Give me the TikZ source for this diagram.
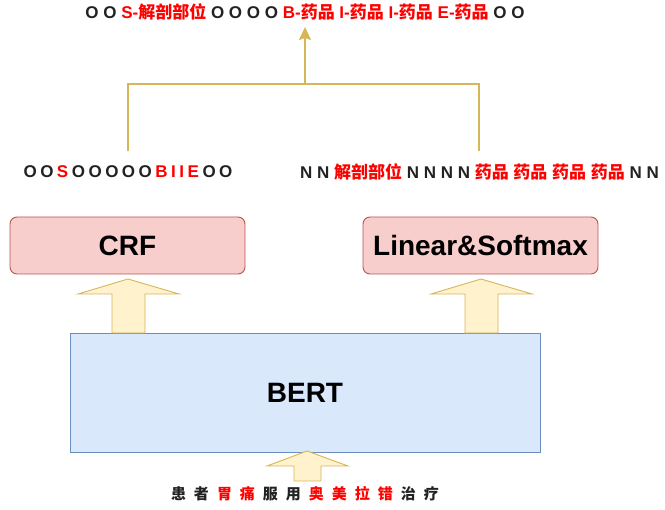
\documentclass[tikz,border=0pt]{standalone}
\usepackage{fontspec}
\usetikzlibrary{arrows.meta}
\setmainfont{Liberation Sans}
\newfontfamily\cjk{Noto Sans CJK SC}
\newcommand{\zh}[1]{{\cjk #1}}
\newcommand{\rd}[1]{{\color{tagred}#1}}
\newcommand{\gp}{\hspace{3.5pt}}
\newcommand{\cg}{\hspace{8pt}}
\definecolor{tagred}{HTML}{FF0000}
\definecolor{gold}{HTML}{D6B656}
\definecolor{goldfill}{HTML}{FFF2CC}
\definecolor{redfill}{HTML}{F8CECC}
\definecolor{redline}{HTML}{B85450}
\definecolor{bluefill}{HTML}{DAE8FC}
\definecolor{blueline}{HTML}{6C8EBF}
\definecolor{ink}{HTML}{222222}
\begin{document}
\begin{tikzpicture}[x=1pt,y=-1pt,
  layerbox/.style={draw=redline,fill=redfill,rounded corners=7pt,line width=0.9pt,
    minimum width=235pt,minimum height=57pt,inner sep=0pt,font=\bfseries\fontsize{28}{30}\selectfont},
  bertbox/.style={draw=blueline,fill=bluefill,line width=0.9pt,
    minimum width=470pt,minimum height=119pt,inner sep=0pt,font=\bfseries\fontsize{28}{30}\selectfont},
  seqtext/.style={inner sep=0pt,text=ink,font=\bfseries\fontsize{17}{19}\selectfont},
  blockarrow/.style={draw=gold,fill=goldfill,line width=0.9pt,line join=miter},
  merge/.style={draw=gold,line width=1.8pt}
]
\useasboundingbox (0,0) rectangle (665,510);

% encoder and output layers
\node[bertbox] (bert) at (305,392.5) {BERT};
\node[layerbox] (crf) at (127.5,245.5) {CRF};
\node[layerbox] (lin) at (480.5,245.5) {Linear\&Softmax};

% input sentence
\node[seqtext,font=\bfseries\fontsize{15}{17}\selectfont\cjk] (inp) at (305,494)
  {患\cg 者\cg \rd{胃\cg 痛}\cg 服\cg 用\cg \rd{奥\cg 美\cg 拉\cg 错}\cg 治\cg 疗};

% tag sequences produced by each head
\node[seqtext] (crfout) at (128,172)
  {O\gp O\gp \rd{S}\gp O\gp O\gp O\gp O\gp O\gp \rd{B\gp I\gp I\gp E}\gp O\gp O};
\node[seqtext] (linout) at (479.5,172)
  {N N \rd{\zh{解剖部位}} N N N N \rd{\zh{药品} \zh{药品} \zh{药品} \zh{药品}} N N};

% merged result
\node[seqtext] (final) at (305,12)
  {O O \rd{S-\zh{解剖部位}} O O O O \rd{B-\zh{药品} I-\zh{药品} I-\zh{药品} E-\zh{药品}} O O};

% block arrows: input -> BERT, BERT -> heads
\draw[blockarrow] (294,481) -- (294,466) -- (267,466) -- (307,451) -- (348,466) -- (321,466) -- (321,481) -- cycle;
\draw[blockarrow] (112,333) -- (112,294) -- (78,294) -- (128,279) -- (179,294) -- (145,294) -- (145,333) -- cycle;
\draw[blockarrow] (465,333) -- (465,294) -- (431,294) -- (481,279) -- (532,294) -- (498,294) -- (498,333) -- cycle;

% merging connector
\coordinate (lu) at (128,151);
\coordinate (ru) at (479,151);
\coordinate (mid) at (305,84);
\coordinate (tip) at (305,27);
\draw[merge] (lu) |- (mid) -| (ru);
\draw[merge,-{Stealth[length=13pt,width=12pt,inset=2pt]}] (mid) -- (tip);
\end{tikzpicture}
\end{document}
